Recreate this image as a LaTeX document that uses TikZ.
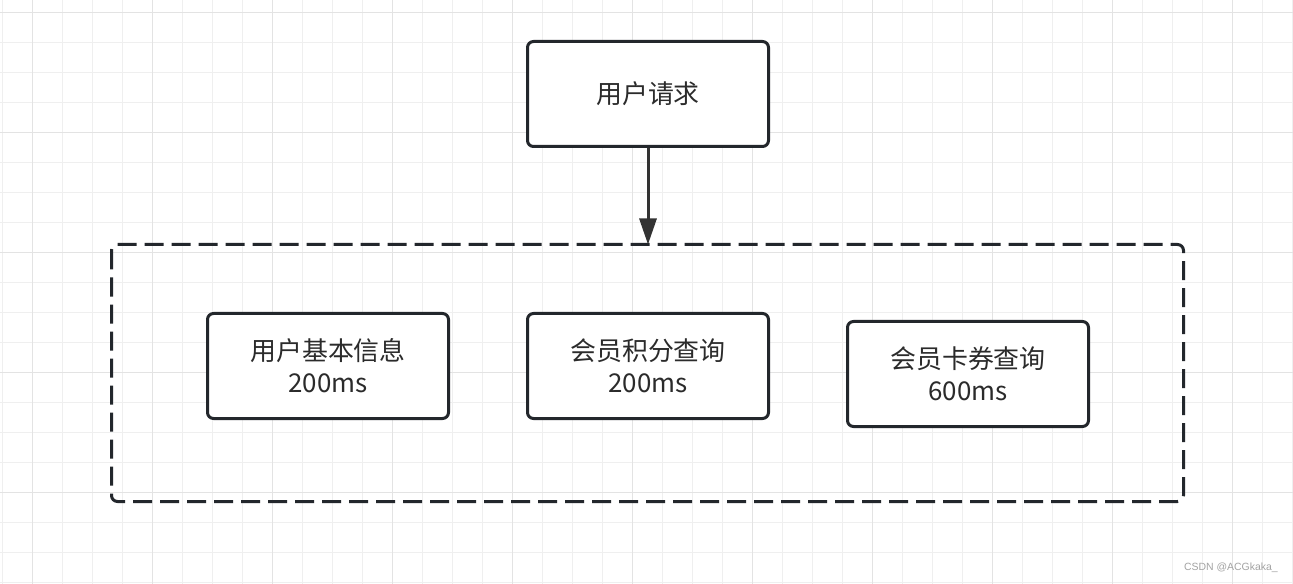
\documentclass[tikz,border=0pt]{standalone}
\usepackage{fontspec}
\setmainfont{Noto Sans CJK SC}
\newfontfamily\markfont{Liberation Sans}
\usetikzlibrary{arrows.meta}

\definecolor{strokecol}{HTML}{23272C}
\definecolor{arrowcol}{HTML}{333333}
\definecolor{textcol}{HTML}{2B2B2B}
\definecolor{minorgrid}{HTML}{EFEFEF}
\definecolor{majorgrid}{HTML}{E3E3E3}
\definecolor{markcol}{HTML}{A3A3A3}

\tikzset{
  box/.style={draw=strokecol, line width=3bp, rounded corners=6bp, fill=white,
    minimum width=241bp, minimum height=105bp, text=textcol, align=center,
    font=\fontsize{26}{32}\selectfont},
  group/.style={draw=strokecol, line width=3bp, rounded corners=6bp,
    dash pattern=on 19bp off 8bp},
}

\begin{document}
\begin{tikzpicture}[x=1bp,y=-1bp,line join=round]
  \useasboundingbox[fill=white] (0,0) rectangle (1293,584);
%%
  % Grid
  \foreach \i in {0,...,43}
    \draw[minorgrid, line width=1.5bp] (2.7+30*\i,0) -- (2.7+30*\i,584);
  \foreach \j in {0,...,19}
    \draw[minorgrid, line width=1.5bp] (0,12.7+30*\j) -- (1293,12.7+30*\j);
  \foreach \i in {0,...,10}
    \draw[majorgrid, line width=1.5bp] (32.7+120*\i,0) -- (32.7+120*\i,584);
  \foreach \j in {0,...,4}
    \draw[majorgrid, line width=1.5bp] (0,12.7+120*\j) -- (1293,12.7+120*\j);
  % Node: tasks
  \coordinate (tasksnw) at (111.5,244.5);
  \coordinate (tasksse) at (1183.5,501.5);
  \draw[group] (tasksnw) rectangle (tasksse);
  \coordinate (taskstop) at (648,244.5);
  % Node: req
  \node[box] (req) at (648,94) {用户请求};
  % Node: info
  \node[box] (info) at (328,366) {用户基本信息\\200ms};
  % Node: points
  \node[box] (points) at (648,366) {会员积分查询\\200ms};
  % Node: coupon
  \node[box] (coupon) at (968,374) {会员卡券查询\\600ms};
  % Edge: req -> tasks
  \draw[arrowcol, line width=3bp, -{Triangle[length=26bp,width=17bp]}]
    (req.south) -- (taskstop);
  % Watermark
  \node[anchor=east, text=markcol, font=\markfont\fontsize{10.5}{12}\selectfont,
    inner sep=0pt] (mark) at (1278,568) {CSDN @ACGkaka\_};
%
\end{tikzpicture}
\end{document}
